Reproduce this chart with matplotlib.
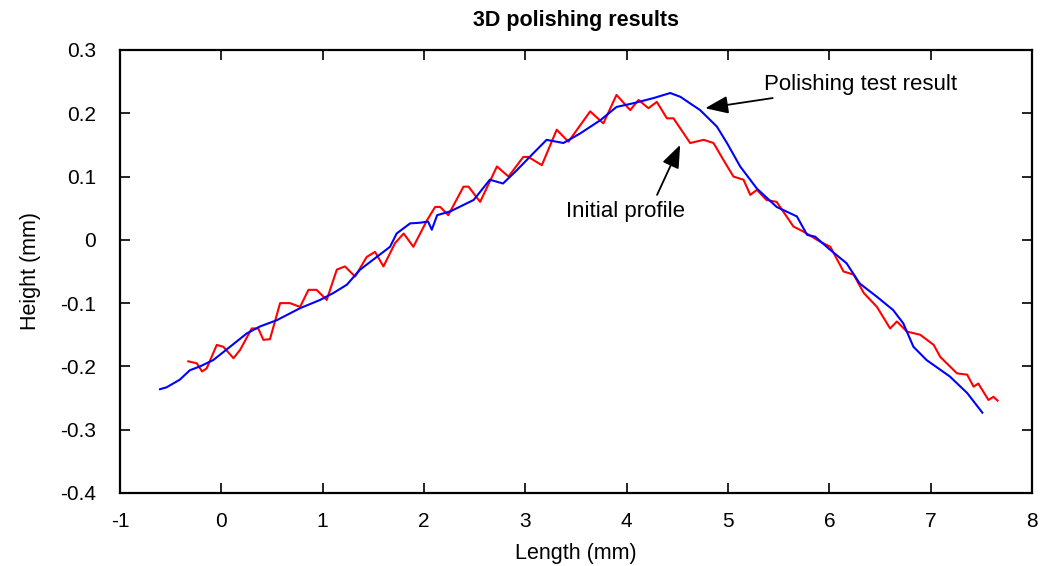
import matplotlib
matplotlib.use('Agg')
import matplotlib.pyplot as plt

# Polishing test result (blue)
polished_x = [-0.605, -0.54, -0.41, -0.31, -0.21, -0.08, 0.086, 0.25, 0.38, 0.547, 0.777,
              0.974, 1.106, 1.238, 1.37, 1.534, 1.665, 1.73, 1.863, 1.96, 2.04, 2.077, 2.13,
              2.26, 2.49, 2.65, 2.78, 2.916, 3.08, 3.21, 3.376, 3.54, 3.74, 3.90, 4.07, 4.265,
              4.43, 4.53, 4.725, 4.89, 4.99, 5.12, 5.285, 5.48, 5.68, 5.78, 5.86, 6.01, 6.17,
              6.30, 6.47, 6.63, 6.73, 6.83, 6.96, 7.19, 7.36, 7.51]
polished_y = [-0.236, -0.233, -0.221, -0.206, -0.200, -0.190, -0.169, -0.148, -0.137, -0.127,
              -0.108, -0.095, -0.084, -0.071, -0.047, -0.027, -0.011, 0.010, 0.026, 0.027,
              0.029, 0.016, 0.039, 0.045, 0.063, 0.095, 0.089, 0.110, 0.137, 0.158, 0.153,
              0.168, 0.189, 0.210, 0.216, 0.224, 0.232, 0.226, 0.205, 0.179, 0.153, 0.116,
              0.081, 0.052, 0.037, 0.008, 0.005, -0.016, -0.037, -0.069, -0.090, -0.111,
              -0.132, -0.169, -0.190, -0.216, -0.242, -0.273]

# Initial profile (red)
initial_x = [-0.326, -0.243, -0.19, -0.144, -0.045, 0.02, 0.12, 0.185, 0.30, 0.365, 0.415,
             0.48, 0.58, 0.678, 0.777, 0.86, 0.94, 1.04, 1.14, 1.22, 1.32, 1.435, 1.517,
             1.60, 1.715, 1.80, 1.895, 2.03, 2.11, 2.16, 2.24, 2.39, 2.44, 2.554, 2.72,
             2.834, 2.98, 3.03, 3.163, 3.31, 3.425, 3.64, 3.77, 3.90, 4.035, 4.117, 4.215,
             4.298, 4.397, 4.462, 4.627, 4.76, 4.857, 4.956, 5.054, 5.153, 5.22, 5.285, 5.38,
             5.48, 5.646, 5.745, 5.91, 6.01, 6.14, 6.24, 6.34, 6.47, 6.60, 6.667, 6.766,
             6.897, 7.03, 7.095, 7.26, 7.36, 7.424, 7.47, 7.57, 7.62, 7.66]
initial_y = [-0.192, -0.195, -0.208, -0.203, -0.166, -0.169, -0.187, -0.174, -0.140, -0.140,
             -0.158, -0.157, -0.100, -0.100, -0.106, -0.079, -0.079, -0.095, -0.047, -0.042,
             -0.058, -0.027, -0.019, -0.042, -0.005, 0.010, -0.011, 0.031, 0.052, 0.052,
             0.039, 0.084, 0.084, 0.060, 0.116, 0.100, 0.131, 0.131, 0.118, 0.174, 0.155,
             0.203, 0.184, 0.229, 0.205, 0.221, 0.208, 0.218, 0.192, 0.192, 0.153, 0.158,
             0.153, 0.126, 0.100, 0.095, 0.071, 0.079, 0.063, 0.060, 0.021, 0.013, -0.003,
             -0.011, -0.050, -0.055, -0.084, -0.106, -0.140, -0.129, -0.145, -0.150, -0.166,
             -0.185, -0.211, -0.213, -0.232, -0.227, -0.253, -0.248, -0.254]

x_ticks = list(range(-1, 9))
x_labels = [str(v) for v in x_ticks]
y_ticks = [-0.4, -0.3, -0.2, -0.1, 0, 0.1, 0.2, 0.3]
y_labels = ['-0.4', '-0.3', '-0.2', '-0.1', '0', '0.1', '0.2', '0.3']

plt.rcParams['font.family'] = ['Liberation Sans', 'DejaVu Sans']

fig = plt.figure(figsize=(10.59, 5.66), dpi=100)
ax = fig.add_axes([0.1133, 0.129, 0.8612, 0.7827])

ax.plot(initial_x, initial_y, color='#ff0000', lw=1.5)
ax.plot(polished_x, polished_y, color='#0000ff', lw=1.5)

ax.set_xlim(-1, 8)
ax.set_ylim(-0.4, 0.3)
ax.set_xticks(x_ticks)
ax.set_xticklabels(x_labels)
ax.set_yticks(y_ticks)
ax.set_yticklabels(y_labels)
ax.tick_params(direction='in', length=7, width=1.2, top=True, right=True,
               labelsize=15)
ax.tick_params(axis='x', pad=14)
ax.tick_params(axis='y', pad=17)
for s in ax.spines.values():
    s.set_linewidth(1.6)

ax.set_title('3D polishing results', fontsize=15.5, fontweight='bold', pad=17)
ax.set_xlabel('Length (mm)', fontsize=15.5, labelpad=8)
ax.set_ylabel('Height (mm)', fontsize=15.5, labelpad=14)

# arrows pointing at the two curves
arrow = dict(arrowstyle='-|>,head_length=0.7,head_width=0.27', color='black', lw=1.3,
             mutation_scale=20, shrinkA=0, shrinkB=0)
ax.annotate('Polishing test result', xy=(4.775, 0.208), xytext=(5.36, 0.245),
            fontsize=16, va='center', ha='left', arrowprops=arrow)
ax.annotate('', xy=(4.528, 0.150), xytext=(4.30, 0.071), arrowprops=arrow)
ax.text(3.985, 0.044, 'Initial profile', fontsize=16, ha='center', va='center')

fig.savefig('out.png', dpi=100)
